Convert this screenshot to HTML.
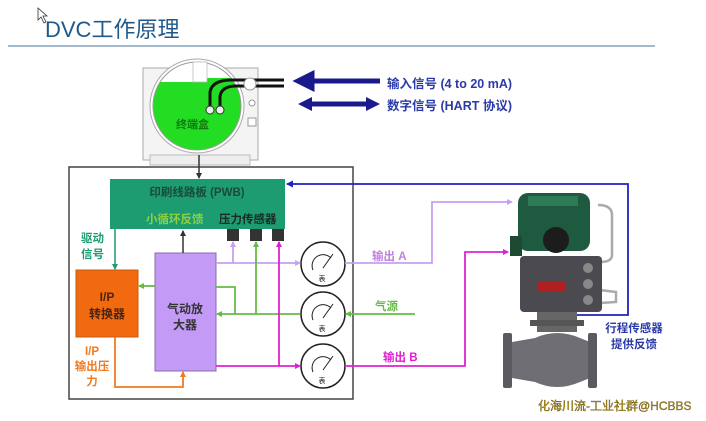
<!DOCTYPE html>
<html><head><meta charset="utf-8"><style>
html,body{margin:0;padding:0;background:#fff;}
svg{display:block;font-family:"Liberation Sans","Noto Sans CJK SC",sans-serif;}
</style></head><body>
<svg width="706" height="421" viewBox="0 0 706 421" xmlns="http://www.w3.org/2000/svg">
<defs>
<marker id="a" markerWidth="6" markerHeight="6" refX="5" refY="3" orient="auto" markerUnits="userSpaceOnUse"><path d="M0,0 L6,3 L0,6z" fill="context-stroke"/></marker>
<marker id="ab" markerWidth="7" markerHeight="7" refX="6" refY="3.5" orient="auto" markerUnits="userSpaceOnUse"><path d="M0,0 L7,3.5 L0,7z" fill="#2222bb"/></marker>
<clipPath id="cc"><circle cx="197" cy="106" r="44"/></clipPath>
</defs>
<path d="M38,8 L38,20 L41,17 L44,23 L46,22 L43,16 L47,16z" fill="#fff" stroke="#333" stroke-width="0.8"/>
<text x="45" y="37" font-size="22" fill="#1f5a8a">DVC工作原理</text>
<line x1="8" y1="46" x2="655" y2="46" stroke="#6a8fb0" stroke-width="1.2"/>

<!-- terminal housing -->
<rect x="143" y="68" width="115" height="92" fill="#f4f4f4" stroke="#aaa"/>
<rect x="150" y="155" width="100" height="10" fill="#eee" stroke="#bbb"/>
<circle cx="197" cy="106" r="47" fill="#fff" stroke="#aaa"/>
<g clip-path="url(#cc)">
<rect x="150" y="82" width="100" height="80" fill="#22dd22"/>
<rect x="207" y="78" width="40" height="6" fill="#22dd22"/>
</g>
<circle cx="197" cy="106" r="44" fill="none" stroke="#999"/>
<rect x="193" y="62" width="14" height="20" fill="#fff" stroke="#bbb" stroke-width="0.8"/>
<path d="M210,108 L210,92 Q212,80 232,80 L258,80 M220,108 L220,96 Q222,86 236,86 L258,86" stroke="#111" stroke-width="3" fill="none"/>
<circle cx="210" cy="110" r="4" fill="#eee" stroke="#333"/><circle cx="220" cy="110" r="4" fill="#eee" stroke="#333"/>
<line x1="258" y1="80" x2="284" y2="80" stroke="#111" stroke-width="3"/><line x1="258" y1="86" x2="284" y2="86" stroke="#111" stroke-width="3"/>
<circle cx="250" cy="84" r="6" fill="#fff" stroke="#999"/><circle cx="252" cy="103" r="3" fill="#fff" stroke="#999"/>
<rect x="248" y="118" width="8" height="8" fill="#fff" stroke="#999"/>
<text x="176" y="128" font-size="11" font-weight="bold" fill="#117711">终端盒</text>
<!-- signal arrows -->
<path d="M380,81 L312,81 M312,74 L298,81 L312,88z" stroke="#1a1a8c" stroke-width="5" fill="#1a1a8c"/>
<path d="M312,104 L366,104" stroke="#1a1a8c" stroke-width="5"/>
<path d="M312,97 L298,104 L312,111z M366,97 L380,104 L366,111z" fill="#1a1a8c"/>
<text x="387" y="88" font-size="12.5" font-weight="bold" fill="#2a3aa8">输入信号 (4 to 20 mA)</text>
<text x="387" y="110" font-size="12.5" font-weight="bold" fill="#2a3aa8">数字信号 (HART 协议)</text>

<!-- main box -->
<rect x="69" y="167" width="284" height="232" fill="#fff" stroke="#444" stroke-width="1.5"/>
<line x1="199" y1="155" x2="199" y2="178" stroke="#333" stroke-width="1.5" marker-end="url(#a)"/>
<rect x="110" y="179" width="175" height="50" fill="#1d9c72"/>
<text x="197" y="196" font-size="11.5" font-weight="bold" fill="#1a4a3a" text-anchor="middle">印刷线路板 (PWB)</text>
<text x="146" y="223" font-size="11.5" font-weight="bold" fill="#8fd13f">小循环反馈</text>
<text x="219" y="223" font-size="11.5" font-weight="bold" fill="#1a2a20">压力传感器</text>
<rect x="227" y="229" width="12" height="12" fill="#333"/><rect x="250" y="229" width="12" height="12" fill="#333"/><rect x="272" y="229" width="12" height="12" fill="#333"/>
<text x="81" y="242" font-size="11.5" font-weight="bold" fill="#1d9c72">驱动</text>
<text x="81" y="258" font-size="11.5" font-weight="bold" fill="#1d9c72">信号</text>
<line x1="115" y1="229" x2="115" y2="269" stroke="#1d9c72" stroke-width="1.5" marker-end="url(#a)"/>
<rect x="76" y="270" width="62" height="67" fill="#f26a10" stroke="#c85a10"/>
<text x="107" y="301" font-size="12" font-weight="bold" fill="#4a2410" text-anchor="middle">I/P</text>
<text x="107" y="318" font-size="12" font-weight="bold" fill="#4a2410" text-anchor="middle">转换器</text>
<text x="92" y="355" font-size="11.5" font-weight="bold" fill="#f07a20" text-anchor="middle">I/P</text>
<text x="92" y="370" font-size="11.5" font-weight="bold" fill="#f07a20" text-anchor="middle">输出压</text>
<text x="92" y="385" font-size="11.5" font-weight="bold" fill="#f07a20" text-anchor="middle">力</text>
<path d="M115,337 L115,387 L183,387 L183,372" stroke="#f07a20" stroke-width="1.8" fill="none" marker-end="url(#a)"/>
<rect x="155" y="253" width="61" height="118" fill="#c39af5" stroke="#8a6ab0"/>
<text x="185" y="313" font-size="12" font-weight="bold" fill="#333" text-anchor="middle">气动放</text>
<text x="185" y="329" font-size="12" font-weight="bold" fill="#333" text-anchor="middle">大器</text>
<line x1="183" y1="253" x2="183" y2="231" stroke="#333" stroke-width="1.5" marker-end="url(#a)"/>
<line x1="155" y1="286" x2="139" y2="286" stroke="#66bb44" stroke-width="1.8" marker-end="url(#a)"/>

<!-- gauges -->
<g fill="#fff" stroke="#222" stroke-width="1.5">
<circle cx="323" cy="264" r="22"/><circle cx="323" cy="314" r="22"/><circle cx="323" cy="366" r="22"/></g>
<g stroke="#222" stroke-width="1" fill="none">
<path d="M313,270 A11,11 0 0 1 331,258 M323,268 L333,254"/><path d="M313,320 A11,11 0 0 1 331,308 M323,318 L333,304"/><path d="M313,372 A11,11 0 0 1 331,360 M323,370 L333,356"/></g>
<g font-size="7" fill="#222" text-anchor="middle"><text x="322" y="281">表</text><text x="322" y="331">表</text><text x="322" y="383">表</text></g>

<g stroke="#c8a0f0" stroke-width="1.8" fill="none">
<line x1="216" y1="263" x2="300" y2="263" marker-end="url(#a)"/>
<line x1="233" y1="263" x2="233" y2="242" marker-end="url(#a)"/>
<path d="M345,263 L432,263 L432,202 L512,202" marker-end="url(#a)"/></g>
<text x="372" y="260" font-size="11.5" font-weight="bold" fill="#c080e0">输出 A</text>
<g stroke="#66bb44" stroke-width="1.8" fill="none">
<path d="M216,287 L235,287 L235,314"/>
<line x1="300" y1="314" x2="217" y2="314" marker-end="url(#a)"/>
<line x1="256" y1="314" x2="256" y2="242" marker-end="url(#a)"/>
<line x1="415" y1="314" x2="346" y2="314" marker-end="url(#a)"/></g>
<text x="375" y="310" font-size="11.5" font-weight="bold" fill="#66bb44">气源</text>
<g stroke="#e020d0" stroke-width="1.8" fill="none">
<line x1="216" y1="366" x2="300" y2="366" marker-end="url(#a)"/>
<line x1="279" y1="366" x2="279" y2="242" marker-end="url(#a)"/>
<path d="M345,366 L465,366 L465,252 L508,252" marker-end="url(#a)"/></g>
<text x="383" y="361" font-size="11.5" font-weight="bold" fill="#e020d0">输出 B</text>
<path d="M568,315 L628,315 L628,184 L287,184" stroke="#2222bb" stroke-width="1.8" fill="none" marker-end="url(#ab)"/>
<text x="634" y="332" font-size="11.5" font-weight="bold" fill="#2a3aa8" text-anchor="middle">行程传感器</text>
<text x="634" y="348" font-size="11.5" font-weight="bold" fill="#2a3aa8" text-anchor="middle">提供反馈</text>

<path d="M598,205 Q612,205 612,215 L612,255 Q612,262 600,262" stroke="#aaa" stroke-width="2.5" fill="none"/>
<path d="M600,290 L616,292 L616,302 L600,303" stroke="#aaa" stroke-width="2.5" fill="none"/>
<rect x="518" y="193" width="72" height="58" rx="10" fill="#1e5a40"/>
<rect x="528" y="196" width="50" height="10" fill="#2e7a58"/>
<rect x="510" y="236" width="12" height="20" fill="#1e4a34"/>
<circle cx="556" cy="240" r="13" fill="#1c1c1c"/>
<rect x="520" y="256" width="82" height="56" rx="4" fill="#4a4a50"/>
<rect x="538" y="282" width="28" height="9" fill="#b02020"/>
<circle cx="588" cy="268" r="5" fill="#888"/><circle cx="588" cy="284" r="5" fill="#888"/><circle cx="588" cy="300" r="5" fill="#888"/>
<rect x="537" y="312" width="40" height="20" fill="#666"/>
<rect x="530" y="320" width="54" height="6" fill="#555"/>
<path d="M512,342 L535,338 Q557,328 580,338 L590,342 L590,378 L580,382 Q557,392 535,382 L512,378z" fill="#6e6e74"/>
<rect x="503" y="333" width="9" height="55" rx="2" fill="#5a5a60"/>
<rect x="588" y="333" width="9" height="55" rx="2" fill="#5a5a60"/>

<text x="538" y="410" font-size="12" fill="#c8a01a" stroke="#3a3000" stroke-width="0.3">化海川流-工业社群@HCBBS</text>
</svg>
</body></html>
